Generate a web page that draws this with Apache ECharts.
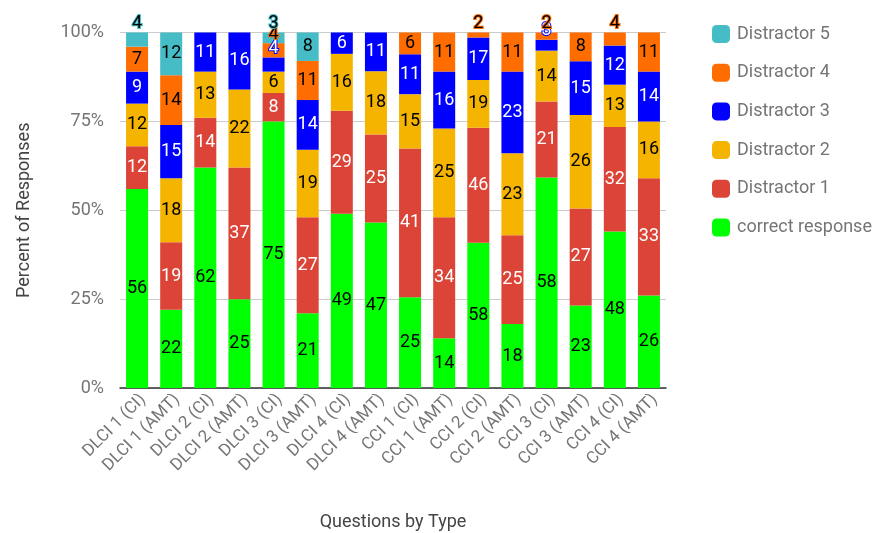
<!DOCTYPE html>
<html>
<head>
<meta charset="utf-8">
<script src="https://cdn.jsdelivr.net/npm/echarts@6/dist/echarts.min.js"></script>
<style>
html,body{margin:0;padding:0;background:#fff;}
#chart{width:874px;height:533px;}
</style>
</head>
<body>
<div id="chart"></div>
<script>
const categories = ['DLCI 1 (CI)','DLCI 1 (AMT)','DLCI 2 (CI)','DLCI 2 (AMT)','DLCI 3 (CI)','DLCI 3 (AMT)','DLCI 4 (CI)','DLCI 4 (AMT)','CCI 1 (CI)','CCI 1 (AMT)','CCI 2 (CI)','CCI 2 (AMT)','CCI 3 (CI)','CCI 3 (AMT)','CCI 4 (CI)','CCI 4 (AMT)'];
const correctResponse = [56,22,62,25,75,21,49,47,25,14,58,18,58,23,48,26];
const distractor1 = [12,19,14,37,8,27,29,25,41,34,46,25,21,27,32,33];
const distractor2 = [12,18,13,22,6,19,16,18,15,25,19,23,14,26,13,16];
const distractor3 = [9,15,11,16,4,14,6,11,11,16,17,23,3,15,12,14];
const distractor4 = [7,14,0,0,4,11,0,0,6,11,2,11,2,8,4,11];
const distractor5 = [4,12,0,0,3,8,0,0,0,0,0,0,0,0,0,0];
const yTicks = [0,25,50,75,100];

const seriesDefs = [
  {name:'correct response', data:correctResponse, color:'#00ff00', text:'#000000'},
  {name:'Distractor 1', data:distractor1, color:'#db4437', text:'#ffffff'},
  {name:'Distractor 2', data:distractor2, color:'#f4b400', text:'#000000'},
  {name:'Distractor 3', data:distractor3, color:'#0000ff', text:'#ffffff'},
  {name:'Distractor 4', data:distractor4, color:'#ff6d01', text:'#000000'},
  {name:'Distractor 5', data:distractor5, color:'#46bdc6', text:'#000000'}
];

const totals = categories.map((c,i)=>seriesDefs.reduce((s,d)=>s+d.data[i],0));

const series = seriesDefs.map(def=>({
  name:def.name,
  type:'bar',
  stack:'total',
  barWidth:22,
  itemStyle:{color:def.color},
  label:{
    show:true,
    position:'inside',
    fontFamily:'Roboto',
    fontSize:18,
    color:def.text,
    textBorderColor:def.color,
    textBorderWidth:2,
    formatter:p=>p.data.raw ? String(p.data.raw) : ''
  },
  data:def.data.map((v,i)=>{
    const pct = v/totals[i]*100;
    const item = {value:pct, raw:v};
    if (v>0 && pct<5) item.label = {position:'top', distance:0};
    return item;
  })
}));

const chart = echarts.init(document.getElementById('chart'));
chart.setOption({
  backgroundColor:'#ffffff',
  animation:false,
  textStyle:{fontFamily:'Roboto'},
  grid:{left:120, right:208, top:32.5, bottom:145, containLabel:false, outerBoundsMode:'none'},
  legend:{
    orient:'vertical',
    left:707, top:20,
    itemWidth:18, itemHeight:18, itemGap:20.7,
    icon:'roundRect',
    data:['Distractor 5','Distractor 4','Distractor 3','Distractor 2','Distractor 1','correct response'],
    textStyle:{fontFamily:'Roboto', fontSize:18, color:'#757575', padding:[0,0,0,2]}
  },
  xAxis:{
    type:'category',
    data:categories,
    name:'Questions by Type',
    nameLocation:'middle',
    nameGap:125,
    nameTextStyle:{fontFamily:'Roboto', fontSize:18, color:'#444444'},
    axisLine:{show:true, lineStyle:{color:'#333333', width:1.5}},
    axisTick:{show:false},
    axisLabel:{rotate:45, fontFamily:'Roboto', fontSize:17, color:'#757575', margin:3, interval:0, verticalAlign:'top'}
  },
  yAxis:{
    type:'value',
    min:0, max:100, interval:25,
    name:'Percent of Responses',
    nameLocation:'middle',
    nameGap:87,
    nameTextStyle:{fontFamily:'Roboto', fontSize:18, color:'#444444'},
    axisLine:{show:false},
    axisTick:{show:false},
    splitLine:{lineStyle:{color:'#cccccc'}},
    axisLabel:{fontFamily:'Roboto', fontSize:18, color:'#757575', margin:16,
      formatter:v=>yTicks.includes(v) ? v+'%' : ''}
  },
  series:series
});
</script>
</body>
</html>
